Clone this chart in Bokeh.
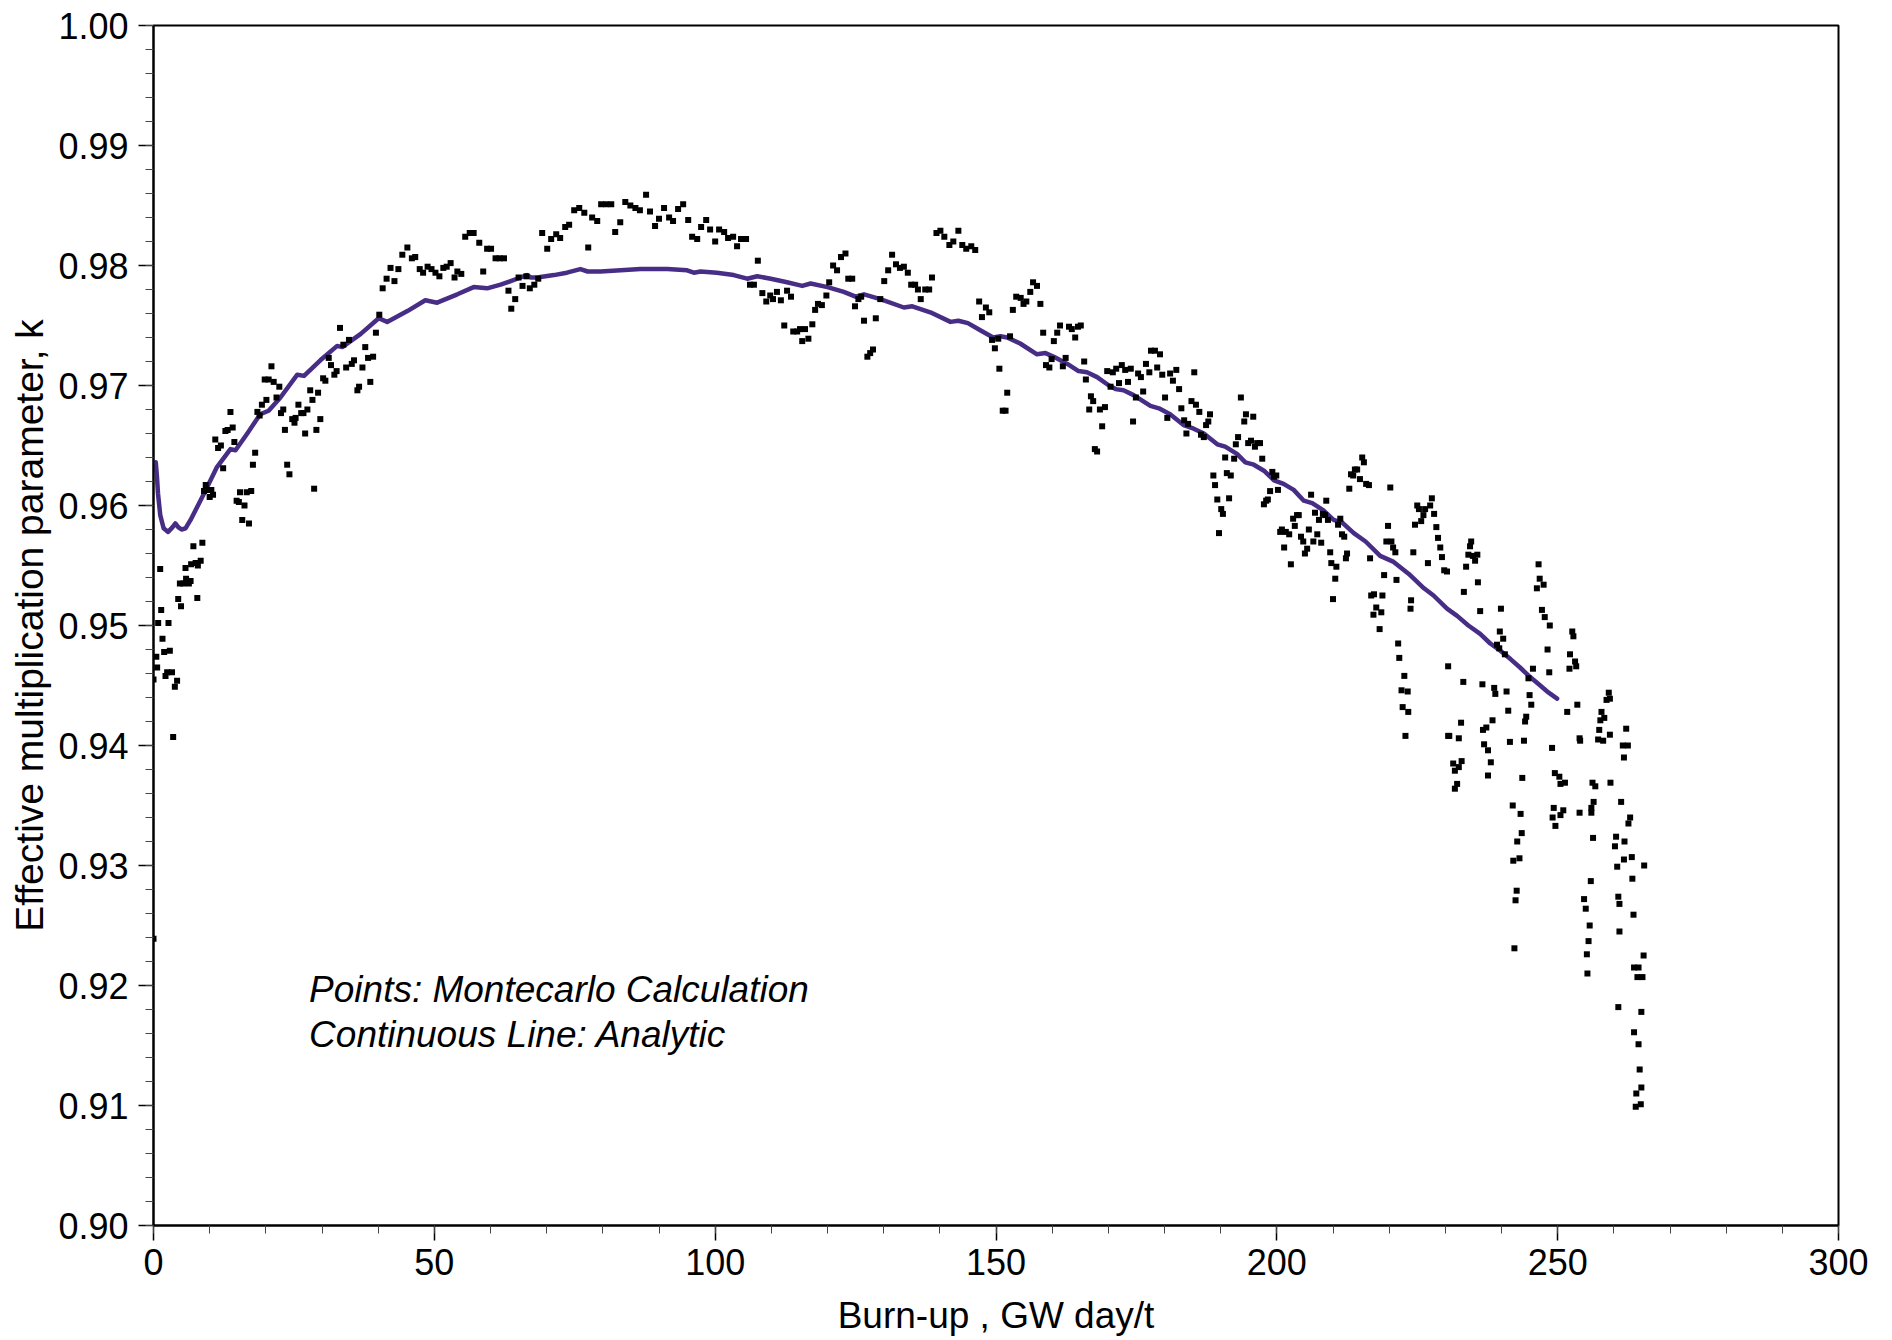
from bokeh.plotting import figure
from bokeh.models import FixedTicker, NumeralTickFormatter, Label, Range1d
from bokeh.embed import file_html
from bokeh.resources import INLINE

# ---- Montecarlo calculation points (burn-up GW day/t, k) ----
mc_burnup = [
    0.0, 0.0, 0.5, 0.65, 0.83, 1.19, 1.37, 1.6, 1.9, 2.14, 2.43, 2.67, 2.91, 3.3, 3.5, 3.8, 4.2, 4.4, 4.7, 4.9,
    5.3, 5.7, 5.8, 6.3, 6.6, 6.7, 7.1, 7.5, 7.8, 7.9, 8.4, 8.7, 9.0, 9.3, 9.6, 10.0, 10.3, 10.6, 11.0, 11.5,
    12.0, 12.4, 12.8, 13.2, 13.7, 14.1, 14.4, 14.8, 15.2, 15.4, 15.8, 16.2, 16.6, 17.0, 17.4, 17.7, 18.1, 18.5, 18.9, 19.3,
    19.8, 20.1, 20.5, 21.0, 21.4, 21.9, 22.4, 22.7, 23.1, 23.4, 23.8, 24.2, 24.7, 25.1, 25.3, 25.8, 26.3, 26.7, 27.0, 27.4,
    27.9, 28.3, 28.6, 29.0, 29.3, 29.7, 30.2, 30.6, 31.2, 31.6, 32.2, 32.6, 33.2, 33.8, 34.3, 34.8, 35.3, 35.7, 36.3, 36.6,
    37.2, 37.7, 38.2, 38.6, 39.1, 39.6, 40.2, 40.8, 41.5, 42.2, 42.9, 43.6, 44.3, 45.2, 46.0, 46.6, 47.4, 48.0, 48.8, 49.5,
    50.2, 50.9, 51.6, 52.2, 52.9, 53.6, 54.1, 54.8, 55.5, 56.3, 57.0, 58.0, 58.7, 59.4, 60.1, 60.9, 61.6, 62.4, 63.2, 63.7,
    64.4, 65.0, 65.7, 66.4, 67.0, 67.8, 68.5, 69.2, 70.1, 70.8, 71.7, 72.4, 73.3, 74.0, 74.9, 75.8, 76.7, 77.4, 78.1, 79.0,
    79.7, 80.6, 81.5, 82.2, 83.1, 84.0, 84.9, 85.8, 86.6, 87.7, 88.4, 89.3, 90.0, 90.9, 91.8, 92.5, 93.4, 94.3, 95.2, 95.9,
    96.8, 97.5, 98.4, 99.1, 100.0, 100.7, 101.6, 102.3, 103.2, 103.9, 104.6, 105.5, 106.2, 106.9, 107.6, 108.4, 109.1, 109.8, 110.3, 111.0,
    111.7, 112.3, 112.8, 113.5, 113.9, 114.6, 115.1, 115.5, 116.0, 116.6, 117.3, 117.8, 118.3, 119.0, 119.8, 120.3, 121.0, 121.7, 122.4, 123.2,
    123.7, 124.4, 124.9, 125.5, 126.0, 126.5, 127.1, 127.6, 128.1, 128.6, 129.4, 130.1, 130.8, 131.5, 132.2, 132.9, 133.6, 134.3, 134.9, 135.6,
    136.1, 136.6, 137.4, 138.1, 138.6, 139.4, 140.1, 140.8, 141.7, 142.4, 143.3, 144.0, 144.7, 145.6, 146.3, 147.0, 147.5, 148.2, 148.8, 149.3,
    149.8, 150.4, 150.6, 151.2, 151.7, 152.0, 152.5, 153.0, 153.6, 154.4, 154.9, 155.4, 156.1, 156.6, 157.3, 157.9, 158.4, 158.9, 159.5, 159.9,
    160.3, 160.9, 161.4, 161.9, 162.4, 163.0, 163.5, 164.1, 164.6, 165.1, 165.7, 166.0, 166.6, 166.9, 167.3, 167.6, 168.0, 168.5, 168.9, 169.4,
    169.8, 170.4, 170.8, 171.4, 171.9, 172.4, 173.0, 173.5, 174.0, 174.4, 174.9, 175.3, 175.8, 176.2, 176.7, 177.3, 177.6, 178.3, 178.7, 179.2,
    179.6, 180.1, 180.5, 181.0, 181.5, 182.1, 182.6, 183.0, 183.5, 183.9, 184.2, 184.8, 185.3, 185.6, 186.2, 186.5, 187.0, 187.4, 187.8, 188.1,
    188.7, 189.0, 189.4, 189.7, 190.1, 190.4, 190.8, 191.1, 191.5, 191.8, 192.4, 192.7, 193.1, 193.6, 194.2, 194.5, 194.9, 195.4, 195.8, 196.1,
    196.5, 197.0, 197.4, 197.7, 198.1, 198.4, 198.8, 199.2, 199.5, 199.9, 200.2, 200.6, 200.9, 201.3, 201.6, 202.2, 202.5, 202.9, 203.2, 203.6,
    203.9, 204.3, 204.7, 205.0, 205.4, 205.7, 206.1, 206.5, 206.8, 207.2, 207.5, 207.9, 208.2, 208.6, 208.8, 209.1, 209.5, 209.7, 210.0, 210.4,
    210.6, 210.9, 211.3, 211.6, 212.0, 212.3, 212.5, 212.9, 213.2, 213.6, 213.9, 214.3, 214.8, 215.2, 215.5, 215.9, 216.4, 216.6, 216.8, 217.3,
    217.2, 217.7, 218.3, 218.6, 218.8, 219.1, 219.5, 219.8, 220.2, 220.4, 220.7, 221.1, 221.3, 221.6, 221.8, 222.2, 222.4, 222.7, 222.9, 223.3,
    223.4, 223.8, 223.9, 224.3, 224.6, 225.0, 225.3, 225.7, 226.1, 226.4, 226.9, 227.3, 227.6, 228.0, 228.4, 228.7, 229.1, 229.4, 229.8, 230.3,
    230.5, 230.5, 230.7, 231.4, 231.7, 232.1, 231.7, 232.4, 232.4, 232.8, 232.9, 233.2, 233.3, 233.7, 234.1, 234.4, 234.6, 234.9, 235.3, 235.7,
    235.8, 236.2, 236.6, 236.7, 236.9, 237.3, 237.6, 237.6, 238.1, 238.4, 238.7, 238.9, 239.2, 239.6, 239.7, 239.9, 240.3, 240.6, 240.9, 241.2,
    241.5, 242.0, 242.1, 242.3, 242.5, 242.7, 242.8, 243.2, 243.4, 243.6, 243.7, 244.0, 244.2, 244.4, 244.8, 245.0, 245.3, 245.6, 246.3, 246.6,
    246.8, 247.2, 247.5, 247.7, 248.2, 248.5, 248.6, 249.0, 249.1, 249.3, 249.5, 249.6, 250.3, 250.5, 250.5, 251.0, 251.3, 251.7, 252.1, 252.2,
    252.6, 252.8, 253.1, 253.3, 253.5, 253.9, 253.9, 254.0, 254.7, 255.0, 255.2, 255.3, 255.5, 255.7, 255.9, 256.0, 256.0, 256.2, 256.3, 256.4,
    256.7, 257.2, 257.4, 257.6, 257.8, 258.1, 258.3, 258.7, 259.1, 259.3, 259.3, 259.4, 260.2, 260.4, 260.6, 260.8, 260.8, 261.0, 261.0, 261.3,
    261.6, 261.8, 261.8, 261.9, 262.2, 262.5, 262.6, 262.9, 263.2, 263.3, 263.5, 263.6, 263.6, 263.9, 264.0, 264.2, 264.4, 264.4, 264.6, 264.8,
    264.9, 264.9, 265.1, 265.3, 265.4,
]
mc_k = [
    0.9455, 0.9239, 0.9474, 0.9465, 0.9502, 0.9547, 0.9513, 0.9489, 0.9478, 0.9458, 0.9461, 0.9502, 0.9479, 0.9461, 0.9407, 0.9449, 0.9454, 0.9522, 0.9535, 0.9516,
    0.9535, 0.9548, 0.9539, 0.9535, 0.9537, 0.9551, 0.9566, 0.9552, 0.9523, 0.9550, 0.9554, 0.9569, 0.9612, 0.9617, 0.9613, 0.9607, 0.9613, 0.9609, 0.9655, 0.9648,
    0.9650, 0.9631, 0.9662, 0.9663, 0.9678, 0.9665, 0.9653, 0.9604, 0.9603, 0.9611, 0.9588, 0.9600, 0.9611, 0.9585, 0.9612, 0.9634, 0.9644, 0.9678, 0.9675, 0.9684,
    0.9705, 0.9688, 0.9705, 0.9716, 0.9703, 0.9690, 0.9699, 0.9677, 0.9680, 0.9663, 0.9634, 0.9626, 0.9672, 0.9669, 0.9673, 0.9684, 0.9677, 0.9677, 0.9660, 0.9680,
    0.9696, 0.9688, 0.9614, 0.9663, 0.9694, 0.9672, 0.9706, 0.9704, 0.9723, 0.9717, 0.9709, 0.9712, 0.9748, 0.9734, 0.9715, 0.9738, 0.9718, 0.9721, 0.9696, 0.9699,
    0.9715, 0.9732, 0.9723, 0.9703, 0.9724, 0.9744, 0.9759, 0.9781, 0.9789, 0.9798, 0.9787, 0.9797, 0.9809, 0.9815, 0.9806, 0.9807, 0.9797, 0.9794, 0.9799, 0.9797,
    0.9794, 0.9791, 0.9798, 0.9799, 0.9802, 0.9790, 0.9795, 0.9793, 0.9824, 0.9827, 0.9827, 0.9819, 0.9795, 0.9814, 0.9814, 0.9806, 0.9806, 0.9806, 0.9779, 0.9764,
    0.9772, 0.9790, 0.9783, 0.9791, 0.9781, 0.9784, 0.9789, 0.9827, 0.9814, 0.9822, 0.9826, 0.9823, 0.9832, 0.9834, 0.9846, 0.9848, 0.9844, 0.9815, 0.9840, 0.9837,
    0.9851, 0.9851, 0.9851, 0.9828, 0.9836, 0.9853, 0.9850, 0.9848, 0.9846, 0.9859, 0.9845, 0.9833, 0.9839, 0.9848, 0.9840, 0.9837, 0.9847, 0.9851, 0.9838, 0.9824,
    0.9822, 0.9832, 0.9838, 0.9830, 0.9820, 0.9830, 0.9828, 0.9823, 0.9824, 0.9816, 0.9822, 0.9822, 0.9784, 0.9784, 0.9804, 0.9777, 0.9770, 0.9775, 0.9772, 0.9778,
    0.9771, 0.9750, 0.9779, 0.9774, 0.9745, 0.9745, 0.9747, 0.9737, 0.9747, 0.9739, 0.9751, 0.9763, 0.9768, 0.9767, 0.9775, 0.9786, 0.9800, 0.9796, 0.9807, 0.9810,
    0.9789, 0.9789, 0.9766, 0.9772, 0.9774, 0.9754, 0.9724, 0.9727, 0.9730, 0.9756, 0.9772, 0.9787, 0.9796, 0.9809, 0.9801, 0.9798, 0.9799, 0.9794, 0.9784, 0.9784,
    0.9780, 0.9772, 0.9780, 0.9780, 0.9790, 0.9827, 0.9829, 0.9824, 0.9817, 0.9820, 0.9829, 0.9817, 0.9814, 0.9816, 0.9813, 0.9770, 0.9757, 0.9765, 0.9761, 0.9738,
    0.9731, 0.9739, 0.9714, 0.9679, 0.9679, 0.9694, 0.9741, 0.9763, 0.9774, 0.9773, 0.9768, 0.9770, 0.9778, 0.9786, 0.9783, 0.9768, 0.9744, 0.9717, 0.9715, 0.9722,
    0.9737, 0.9744, 0.9750, 0.9716, 0.9723, 0.9749, 0.9747, 0.9740, 0.9749, 0.9750, 0.9720, 0.9705, 0.9680, 0.9691, 0.9687, 0.9647, 0.9645, 0.9680, 0.9666, 0.9682,
    0.9712, 0.9699, 0.9711, 0.9714, 0.9702, 0.9717, 0.9713, 0.9703, 0.9714, 0.9670, 0.9690, 0.9710, 0.9707, 0.9695, 0.9718, 0.9711, 0.9729, 0.9729, 0.9715, 0.9726,
    0.9709, 0.9690, 0.9673, 0.9710, 0.9704, 0.9713, 0.9697, 0.9681, 0.9671, 0.9660, 0.9668, 0.9687, 0.9711, 0.9684, 0.9678, 0.9659, 0.9657, 0.9667, 0.9670, 0.9676,
    0.9625, 0.9617, 0.9605, 0.9577, 0.9597, 0.9593, 0.9640, 0.9627, 0.9606, 0.9625, 0.9639, 0.9651, 0.9657, 0.9690, 0.9670, 0.9676, 0.9652, 0.9654, 0.9674, 0.9649,
    0.9652, 0.9652, 0.9639, 0.9601, 0.9604, 0.9605, 0.9612, 0.9628, 0.9624, 0.9625, 0.9613, 0.9578, 0.9580, 0.9565, 0.9578, 0.9576, 0.9551, 0.9589, 0.9583, 0.9592,
    0.9592, 0.9574, 0.9570, 0.9560, 0.9564, 0.9580, 0.9609, 0.9570, 0.9594, 0.9576, 0.9588, 0.9569, 0.9593, 0.9592, 0.9604, 0.9588, 0.9561, 0.9552, 0.9522, 0.9539,
    0.9549, 0.9584, 0.9589, 0.9576, 0.9574, 0.9556, 0.9560, 0.9614, 0.9626, 0.9625, 0.9630, 0.9630, 0.9622, 0.9640, 0.9636, 0.9618, 0.9617, 0.9556, 0.9525, 0.9526,
    0.9509, 0.9515, 0.9497, 0.9511, 0.9525, 0.9542, 0.9570, 0.9583, 0.9615, 0.9570, 0.9565, 0.9561, 0.9538, 0.9485, 0.9473, 0.9446, 0.9432, 0.9458, 0.9408, 0.9445,
    0.9428, 0.9514, 0.9521, 0.9561, 0.9584, 0.9600, 0.9597, 0.9587, 0.9592, 0.9597, 0.9552, 0.9600, 0.9606, 0.9593, 0.9582, 0.9573, 0.9565, 0.9557, 0.9546, 0.9545,
    0.9466, 0.9408, 0.9408, 0.9385, 0.9379, 0.9368, 0.9364, 0.9382, 0.9406, 0.9419, 0.9387, 0.9453, 0.9528, 0.9549, 0.9559, 0.9566, 0.9570, 0.9558, 0.9554, 0.9559,
    0.9536, 0.9512, 0.9451, 0.9413, 0.9401, 0.9415, 0.9396, 0.9375, 0.9386, 0.9421, 0.9448, 0.9443, 0.9484, 0.9481, 0.9495, 0.9514, 0.9489, 0.9476, 0.9445, 0.9429,
    0.9403, 0.9350, 0.9304, 0.9231, 0.9271, 0.9279, 0.9320, 0.9306, 0.9343, 0.9327, 0.9373, 0.9404, 0.9420, 0.9424, 0.9456, 0.9442, 0.9434, 0.9464, 0.9531, 0.9551,
    0.9539, 0.9513, 0.9534, 0.9507, 0.9480, 0.9461, 0.9500, 0.9398, 0.9340, 0.9348, 0.9377, 0.9333, 0.9374, 0.9368, 0.9342, 0.9346, 0.9369, 0.9428, 0.9464, 0.9476,
    0.9495, 0.9491, 0.9470, 0.9466, 0.9434, 0.9406, 0.9344, 0.9404, 0.9272, 0.9264, 0.9226, 0.9210, 0.9237, 0.9250, 0.9287, 0.9348, 0.9344, 0.9369, 0.9323, 0.9353,
    0.9366, 0.9405, 0.9413, 0.9421, 0.9428, 0.9404, 0.9423, 0.9438, 0.9444, 0.9439, 0.9409, 0.9369, 0.9316, 0.9324, 0.9299, 0.9274, 0.9182, 0.9268, 0.9245, 0.9353,
    0.9400, 0.9390, 0.9305, 0.9320, 0.9414, 0.9400, 0.9335, 0.9340, 0.9307, 0.9289, 0.9259, 0.9215, 0.9161, 0.9099, 0.9110, 0.9207, 0.9215, 0.9151, 0.9130, 0.9101,
    0.9115, 0.9178, 0.9207, 0.9225, 0.9300,
]

# ---- Analytic curve ----
an_burnup = [
    0.4, 0.6, 0.8, 1.2, 1.8, 2.6, 3.4, 3.9, 4.4, 5.0, 5.7, 6.6, 7.8, 9.0, 11.3, 13.7, 14.6, 16.7, 19.0, 20.5,
    22.6, 25.6, 26.8, 29.7, 32.7, 33.6, 36.9, 40.1, 41.6, 45.2, 48.4, 50.5, 54.1, 57.0, 59.4, 61.8, 63.6, 65.3, 66.5, 67.2,
    68.3, 71.3, 73.6, 76.0, 77.3, 79.6, 83.2, 86.7, 91.5, 95.0, 96.2, 97.4, 100.3, 103.3, 105.7, 107.5, 109.9, 112.8, 115.5, 117.0,
    120.0, 122.9, 125.0, 126.5, 129.4, 133.6, 135.1, 138.3, 141.9, 143.3, 145.0, 147.2, 149.5, 150.8, 152.0, 154.3, 157.3, 158.8, 160.3, 162.7,
    164.7, 166.2, 168.0, 170.1, 171.3, 172.7, 174.5, 177.5, 179.0, 181.0, 183.4, 185.2, 187.0, 189.4, 190.8, 192.9, 194.4, 195.9, 197.7, 199.5,
    201.2, 203.0, 204.8, 206.3, 208.3, 210.1, 211.6, 213.7, 215.8, 218.4, 220.8, 223.5, 226.2, 227.9, 230.3, 232.1, 234.1, 236.2, 238.0, 239.8,
    241.6, 243.3, 245.1, 246.9, 248.4, 249.9,
]
an_k = [
    0.9636, 0.9625, 0.9610, 0.9592, 0.9581, 0.9578, 0.9582, 0.9585, 0.9582, 0.9580, 0.9581, 0.9588, 0.9599, 0.9610, 0.9632, 0.9647, 0.9646, 0.9660, 0.9676, 0.9679,
    0.9690, 0.9709, 0.9708, 0.9721, 0.9733, 0.9732, 0.9743, 0.9756, 0.9753, 0.9762, 0.9771, 0.9769, 0.9776, 0.9782, 0.9781, 0.9784, 0.9787, 0.9790, 0.9792, 0.9790,
    0.9790, 0.9792, 0.9794, 0.9797, 0.9795, 0.9795, 0.9796, 0.9797, 0.9797, 0.9796, 0.9794, 0.9795, 0.9794, 0.9792, 0.9789, 0.9791, 0.9789, 0.9786, 0.9783, 0.9785,
    0.9782, 0.9778, 0.9774, 0.9776, 0.9772, 0.9765, 0.9766, 0.9761, 0.9753, 0.9754, 0.9752, 0.9746, 0.9740, 0.9741, 0.9740, 0.9735, 0.9726, 0.9727, 0.9724, 0.9718,
    0.9712, 0.9711, 0.9707, 0.9700, 0.9697, 0.9696, 0.9692, 0.9683, 0.9681, 0.9676, 0.9667, 0.9664, 0.9660, 0.9651, 0.9649, 0.9643, 0.9636, 0.9634, 0.9629, 0.9621,
    0.9618, 0.9613, 0.9604, 0.9602, 0.9596, 0.9588, 0.9586, 0.9577, 0.9570, 0.9558, 0.9553, 0.9543, 0.9531, 0.9525, 0.9514, 0.9508, 0.9500, 0.9493, 0.9485, 0.9479,
    0.9472, 0.9465, 0.9457, 0.9450, 0.9444, 0.9439,
]

x_ticks = [0, 50, 100, 150, 200, 250, 300]
x_minor = list(range(0, 301, 10))
y_ticks = [0.90, 0.91, 0.92, 0.93, 0.94, 0.95, 0.96, 0.97, 0.98, 0.99, 1.00]
y_minor = [round(0.90 + 0.002 * i, 3) for i in range(51)]

FONT = "Liberation Sans"

p = figure(width=1888, height=1338,
           x_range=Range1d(0, 300), y_range=Range1d(0.90, 1.00),
           output_backend="svg", toolbar_location=None,
           min_border_left=153, min_border_right=50,
           min_border_top=25, min_border_bottom=113)

p.grid.visible = False
p.outline_line_color = "black"
p.outline_line_width = 2
p.background_fill_color = "white"
p.border_fill_color = "white"

p.xaxis.ticker = FixedTicker(ticks=x_ticks, minor_ticks=x_minor)
p.yaxis.ticker = FixedTicker(ticks=y_ticks, minor_ticks=y_minor)
p.yaxis.formatter = NumeralTickFormatter(format="0.00")
p.xaxis.formatter = NumeralTickFormatter(format="0")

for ax in (p.xaxis[0], p.yaxis[0]):
    ax.axis_line_color = "black"
    ax.axis_line_width = 2
    ax.major_tick_in = 0
    ax.major_tick_out = 15
    ax.minor_tick_in = 0
    ax.minor_tick_out = 8
    ax.major_tick_line_width = 1.5
    ax.minor_tick_line_width = 1
    ax.major_tick_line_color = "black"
    ax.minor_tick_line_color = "#444444"
    ax.major_label_text_font = FONT
    ax.major_label_text_font_size = "36px"
    ax.major_label_text_color = "black"
    ax.axis_label_text_font = FONT
    ax.axis_label_text_font_style = "normal"
    ax.axis_label_text_color = "black"

p.xaxis.axis_label_text_font_size = "37px"
p.yaxis.axis_label_text_font_size = "39px"
p.xaxis.axis_label = "Burn-up , GW day/t"
p.yaxis.axis_label = "Effective multiplication parameter, k"
p.xaxis.major_label_standoff = 8
p.yaxis.major_label_standoff = 10
p.xaxis.axis_label_standoff = 17
p.yaxis.axis_label_standoff = 4

p.line(an_burnup, an_k, line_color="#472d85", line_width=4.5, line_join="round", line_cap="round")
p.scatter(mc_burnup, mc_k, marker="square", size=6, fill_color="black", line_color=None)

lab1 = Label(x=27.7, y=0.9197, text="Points: Montecarlo Calculation",
             text_font=FONT, text_font_style="italic", text_font_size="37px",
             text_color="black", text_baseline="alphabetic")
lab2 = Label(x=27.7, y=0.9159, text="Continuous Line: Analytic",
             text_font=FONT, text_font_style="italic", text_font_size="37px",
             text_color="black", text_baseline="alphabetic")
p.add_layout(lab1)
p.add_layout(lab2)

open("out.html", "w").write(file_html(p, INLINE))
